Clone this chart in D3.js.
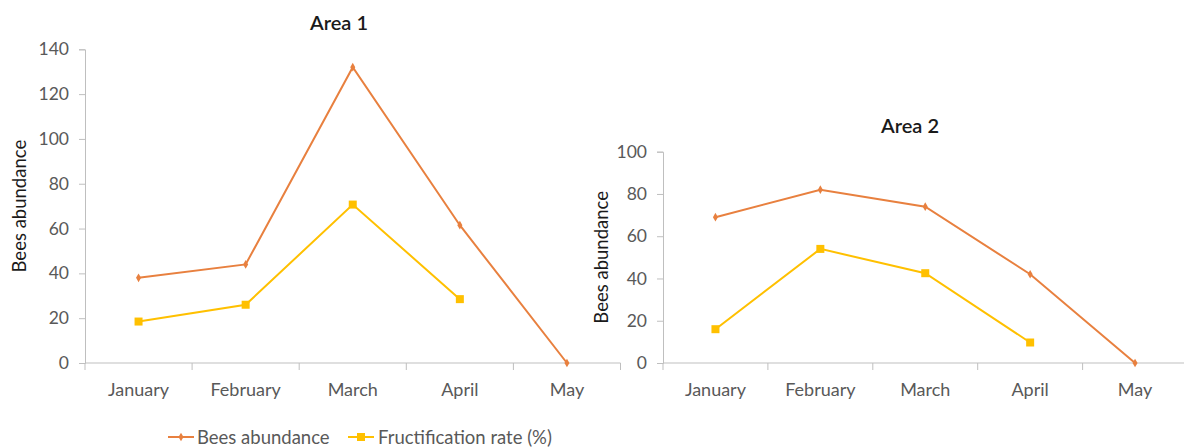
<!DOCTYPE html>
<html>
<head>
<meta charset="utf-8">
<script src="https://cdn.jsdelivr.net/npm/d3@7"></script>
<style>
  html, body { margin: 0; padding: 0; background: #fff; }
  svg { display: block; font-family: Lato, "Open Sans", sans-serif; }
</style>
</head>
<body>
<svg id="chart" width="1184" height="448"></svg>
<script>
// Monthly categories shared by both panels
const months = ["January", "February", "March", "April", "May"];

// Area 1 series (null = no observation)
const area1Bees = [38, 44, 132, 61.5, 0];
const area1Fruct = [18.5, 26, 70.7, 28.5, null];
const area1Ticks = [0, 20, 40, 60, 80, 100, 120, 140];

// Area 2 series
const area2Bees = [69, 82, 74, 42, 0];
const area2Fruct = [16, 54, 42.5, 9.7, null];
const area2Ticks = [0, 20, 40, 60, 80, 100];

const seriesNames = ["Bees abundance", "Fructification rate (%)"];
const seriesColors = ["#E8803F", "#FFC000"];

const svg = d3.select("#chart");
const axisColor = "#BFBFBF";
const labelColor = "#595959";

function panel(cfg) {
  const g = svg.append("g");
  const x = d3.scaleBand().domain(months).range([cfg.x0, cfg.x1]);
  const y = d3.scaleLinear().domain([0, cfg.max]).range([cfg.y0, cfg.yTop]);

  // title
  g.append("text")
    .attr("x", cfg.titleX).attr("y", cfg.titleY)
    .attr("text-anchor", "middle")
    .attr("font-size", 20).attr("font-weight", 600).attr("fill", "#1a1a1a")
    .text(cfg.title);

  // y axis
  const ya = g.append("g").attr("transform", `translate(${cfg.x0},0)`)
    .call(d3.axisLeft(y).tickValues(cfg.ticks).tickSize(6).tickPadding(10));
  ya.select(".domain").attr("stroke", axisColor);
  ya.selectAll(".tick line").attr("stroke", axisColor);
  ya.selectAll(".tick text").attr("fill", labelColor).attr("font-size", 17.5)
    .attr("font-family", "Lato, sans-serif");

  // x axis: ticks on band boundaries, labels centred on bands
  const bounds = months.map(m => x(m)).concat([cfg.x1]);
  const xa = g.append("g").attr("transform", `translate(0,${cfg.y0})`);
  xa.append("line").attr("x1", cfg.x0).attr("x2", cfg.x1)
    .attr("stroke", axisColor);
  xa.selectAll("line.tk").data(bounds).enter().append("line")
    .attr("class", "tk")
    .attr("x1", d => d).attr("x2", d => d).attr("y1", 0).attr("y2", 7)
    .attr("stroke", axisColor);
  xa.selectAll("text").data(months).enter().append("text")
    .attr("x", d => x(d) + x.bandwidth() / 2).attr("y", 33)
    .attr("text-anchor", "middle").attr("fill", labelColor).attr("font-size", 18)
    .text(d => d);

  // y axis title
  g.append("text")
    .attr("transform", `translate(${cfg.ylabX},${(cfg.y0 + cfg.yTop) / 2}) rotate(-90)`)
    .attr("text-anchor", "middle").attr("font-size", 18.5).attr("fill", "#1a1a1a")
    .text("Bees abundance");

  const cx = d => x(d) + x.bandwidth() / 2;
  const line = d3.line()
    .defined(d => d.v !== null)
    .x(d => cx(d.m)).y(d => y(d.v));

  const sets = [cfg.bees, cfg.fruct];
  sets.forEach((vals, i) => {
    const data = months.map((m, j) => ({ m, v: vals[j] }));
    g.append("path").datum(data)
      .attr("d", line).attr("fill", "none")
      .attr("stroke", seriesColors[i]).attr("stroke-width", 2);
    const pts = data.filter(d => d.v !== null);
    if (i === 0) {
      g.selectAll(null).data(pts).enter().append("path")
        .attr("d", d3.symbol(d3.symbolDiamond, 22))
        .attr("transform", d => `translate(${cx(d.m)},${y(d.v)})`)
        .attr("fill", seriesColors[i]);
    } else {
      g.selectAll(null).data(pts).enter().append("rect")
        .attr("x", d => cx(d.m) - 4).attr("y", d => y(d.v) - 4)
        .attr("width", 8).attr("height", 8)
        .attr("fill", seriesColors[i]);
    }
  });
}

panel({
  title: "Area 1", titleX: 339, titleY: 30,
  x0: 85, x1: 620.5, y0: 363, yTop: 49.3, max: 140, ticks: area1Ticks,
  ylabX: 26, bees: area1Bees, fruct: area1Fruct
});

panel({
  title: "Area 2", titleX: 910, titleY: 133,
  x0: 663, x1: 1187.5, y0: 363, yTop: 151.7, max: 100, ticks: area2Ticks,
  ylabX: 608, bees: area2Bees, fruct: area2Fruct
});

// legend
const legend = svg.append("g").attr("transform", "translate(0,437)");
const legendItems = [
  { x: 168, tx: 197 },
  { x: 348, tx: 378 }
];
legendItems.forEach((p, i) => {
  legend.append("line").attr("x1", p.x).attr("x2", p.x + 26)
    .attr("stroke", seriesColors[i]).attr("stroke-width", 2);
  if (i === 0) {
    legend.append("path").attr("d", d3.symbol(d3.symbolDiamond, 22))
      .attr("transform", `translate(${p.x + 13},0)`).attr("fill", seriesColors[i]);
  } else {
    legend.append("rect").attr("x", p.x + 9).attr("y", -4)
      .attr("width", 8).attr("height", 8).attr("fill", seriesColors[i]);
  }
  legend.append("text").attr("x", p.tx).attr("y", 6.5)
    .attr("font-size", 18.5).attr("fill", labelColor)
    .text(seriesNames[i]);
});
</script>
</body>
</html>
